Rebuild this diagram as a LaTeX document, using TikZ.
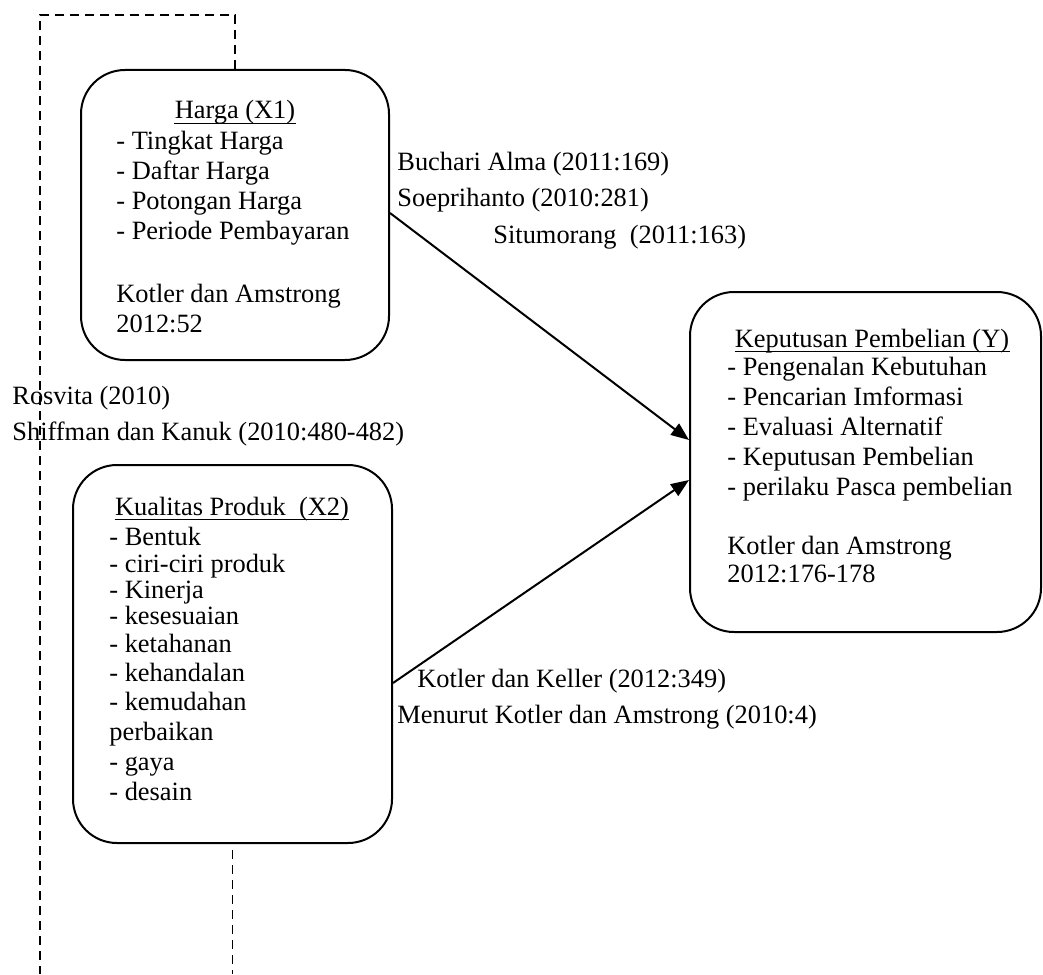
\documentclass[tikz,border=0pt]{standalone}
\usepackage{fontspec}
\setmainfont{Liberation Serif}
\usetikzlibrary{arrows.meta}
\begin{document}
\begin{tikzpicture}[x=0.5pt,y=-0.5pt,
  box/.style={draw,line width=1pt,rounded corners=22pt,inner sep=0pt},
  txt/.style={anchor=base west,inner sep=0pt,font=\fontsize{13.2pt}{15pt}\selectfont},
  ttl/.style={anchor=base,inner sep=0pt,font=\fontsize{13.2pt}{15pt}\selectfont},
  uline/.style={line width=0.6pt},
  dashline/.style={line width=0.9pt,dash pattern=on 4.5pt off 3pt},
  arr/.style={line width=1pt,-{Triangle[length=9pt,width=7pt]}}]
\useasboundingbox (0,0) rectangle (1043,974);
% boxes
\node[box,minimum width=154pt,minimum height=145pt] (x1) at (235,215) {};
\node[box,minimum width=159.5pt,minimum height=189pt] (x2) at (232.5,654) {};
\node[box,minimum width=175.5pt,minimum height=170pt] (y) at (865.5,462) {};
% box X1 text
\node[ttl] (t1) at (235,119) {Harga (X1)};
\node[txt] (a1) at (116,149) {- Tingkat Harga};
\node[txt] (a2) at (116,179) {- Daftar Harga};
\node[txt] (a3) at (116,209) {- Potongan Harga};
\node[txt] (a4) at (116,239) {- Periode Pembayaran};
\node[txt] (a5) at (116,302) {Kotler dan Amstrong};
\node[txt] (a6) at (116,332) {2012:52};
% box X2 text
\node[ttl] (t2) at (232,515) {Kualitas Produk\ \ (X2)};
\node[txt] (b1) at (109,545) {- Bentuk};
\node[txt] (b2) at (109,572) {- ciri-ciri produk};
\node[txt] (b3) at (109,598) {- Kinerja};
\node[txt] (b4) at (109,624) {- kesesuaian};
\node[txt] (b5) at (109,652) {- ketahanan};
\node[txt] (b6) at (109,681) {- kehandalan};
\node[txt] (b7) at (109,710) {- kemudahan};
\node[txt] (b8) at (109,740) {perbaikan};
\node[txt] (b9) at (109,770) {- gaya};
\node[txt] (b10) at (109,800) {- desain};
% box Y text
\node[ttl] (t3) at (872,347) {Keputusan Pembelian (Y)};
\node[txt] (c1) at (727,375) {- Pengenalan Kebutuhan};
\node[txt] (c2) at (727,405) {- Pencarian Imformasi};
\node[txt] (c3) at (727,435) {- Evaluasi Alternatif};
\node[txt] (c4) at (727,465) {- Keputusan Pembelian};
\node[txt] (c5) at (727,495) {- perilaku Pasca pembelian};
\node[txt] (c6) at (727,554) {Kotler dan Amstrong};
\node[txt] (c7) at (727,582) {2012:176-178};
% underlines of titles
\foreach \t in {t1,t2,t3}
  \draw[uline] ([yshift=-2.2pt]\t.base west) -- ([yshift=-2.2pt]\t.base east);
% labels
\node[txt] (l1) at (397,170) {Buchari Alma (2011:169)};
\node[txt] (l2) at (397,206) {Soeprihanto (2010:281)};
\node[txt] (l3) at (493,243) {Situmorang\ \ (2011:163)};
\node[txt] (l4) at (12,404) {Rosvita (2010)};
\node[txt] (l5) at (12,440) {Shiffman dan Kanuk (2010:480-482)};
\node[txt] (l6) at (417,687) {Kotler dan Keller (2012:349)};
\node[txt] (l7) at (397,723) {Menurut Kotler dan Amstrong (2010:4)};
% dashed loop
\coordinate (d1) at (235,15);
\coordinate (d2) at (40,15);
\coordinate (d3) at (40,974);
\coordinate (d4) at (232.5,974);
\draw[dashline] (x1.north) -- (d1) -- (d2) -- (d3);
\draw[dashline] ([yshift=-3pt]x2.south) -- (d4);
% arrows
\draw[arr] ([yshift=1pt]x1.east) -- ([yshift=11pt]y.west);
\draw[arr] ([yshift=-14.5pt]x2.east) -- ([yshift=-9pt]y.west);
\end{tikzpicture}
\end{document}
